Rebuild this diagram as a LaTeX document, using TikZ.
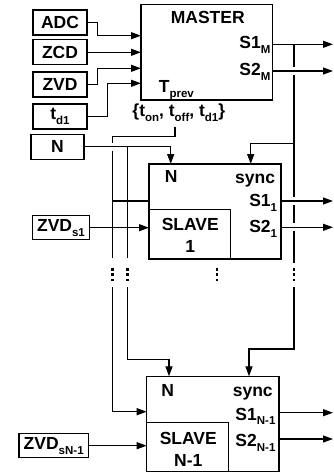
\documentclass[tikz,border=0pt]{standalone}
\usepackage{fontspec}
\setmainfont{Liberation Sans}
\usetikzlibrary{arrows.meta}
\newcommand\sbs[1]{\raisebox{-0.28em}{\fontsize{11.5}{12}\selectfont #1}}
\begin{document}
\begin{tikzpicture}[x=1pt,y=-1pt,line width=1.2pt,
  font=\fontsize{17.5}{20}\selectfont\bfseries,
  box/.style 2 args={draw,inner sep=0pt,minimum width=#1,minimum height=#2},
  txt/.style={inner sep=0pt},
  arr/.style={-{Triangle[length=10pt,width=7pt]}}]
\useasboundingbox (0,0) rectangle (333,476);

% input boxes
\node[box={54pt}{25pt}] (adc) at (60,22.5) {ADC};
\node[box={54pt}{25pt}] (zcd) at (60,52.3) {ZCD};
\node[box={54pt}{25pt}] (zvd) at (60,84.5) {ZVD};
\node[box={54pt}{25pt}] (td1) at (60,116.5) {t\sbs{d1}};
\node[box={53pt}{25pt}] (n) at (57.5,146.7) {N};
\node[box={56.6pt}{24.3pt}] (zvds1) at (61,227.7) {ZVD\sbs{s1}};
\node[box={69.3pt}{24pt}] (zvdsn) at (53.7,445.7) {ZVD\sbs{sN-1}};

% master
\node[box={131.7pt}{95.3pt}] (master) at (206.85,52.35) {};
\node[txt,anchor=base] (mt) at (207.8,24) {MASTER};
\node[txt,anchor=base east] (s1m) at (271,48.5) {S1\sbs{M}};
\node[txt,anchor=base east] (s2m) at (271,76) {S2\sbs{M}};
\node[txt,anchor=base west] (tprev) at (158.3,93) {T\sbs{prev}};
\node[txt,anchor=base] (params) at (178.8,117) {\{t\sbs{on}, t\sbs{off}, t\sbs{d1}\}};

% slave 1
\node[box={132pt}{95pt}] (sl1) at (215,211.5) {};
\node[box={81.7pt}{49.7pt}] (sl1in) at (189.85,234.15) {};
\node[txt,anchor=base] (sl1n) at (171.2,182.7) {N};
\node[txt,anchor=base east] (sl1sync) at (275.7,183) {sync};
\node[txt,anchor=base east] (sl1s1) at (277.7,206.7) {S1\sbs{1}};
\node[txt,anchor=base east] (sl1s2) at (277.7,232.7) {S2\sbs{1}};
\node[txt,anchor=base] (sl1a) at (190.3,230.7) {SLAVE};
\node[txt,anchor=base] (sl1b) at (190.3,252.3) {1};

% slave N-1
\node[box={132.3pt}{95.4pt}] (sln) at (212.85,424) {};
\node[box={82pt}{49.4pt}] (slnin) at (187.7,447) {};
\node[txt,anchor=base] (slnn) at (167.8,396.7) {N};
\node[txt,anchor=base east] (slnsync) at (273.3,396.7) {sync};
\node[txt,anchor=base east] (slns1) at (276,420) {S1\sbs{N-1}};
\node[txt,anchor=base east] (slns2) at (276,446.7) {S2\sbs{N-1}};
\node[txt,anchor=base] (slna) at (188.3,444) {SLAVE};
\node[txt,anchor=base] (slnb) at (188.3,466.7) {N-1};

% ports
\coordinate (min1) at (141,35.7);
\coordinate (min2) at (141,52.3);
\coordinate (min3) at (141,68.3);
\coordinate (min4) at (141,83.3);
\coordinate (m1o) at (272.7,44.3);
\coordinate (m2o) at (272.7,71);
\coordinate (o1) at (333,44.3);
\coordinate (o2) at (333,71);
\coordinate (o3) at (333,201);
\coordinate (o4) at (333,227.3);
\coordinate (o5) at (333,412.7);
\coordinate (o6) at (333,439);
\coordinate (sync1) at (250.7,164);
\coordinate (syncn) at (249,376.3);
\coordinate (nin1) at (170.7,164);
\coordinate (ninn) at (169,376.3);
\coordinate (pin1) at (149,201);
\coordinate (pinn) at (146.7,411.7);
\coordinate (zin1) at (149,227.7);
\coordinate (zinn) at (146.7,445.7);
\coordinate (p0) at (175,126.7);

% master inputs
\draw[arr] (adc.east) -- ++(9.7,0) |- (min1);
\draw[arr] (zcd.east) -- (min2);
\draw[arr] (zvd.east) -- ++(9.7,0) |- (min3);
\draw[arr] (td1.east) -- ++(19.7,0) |- (min4);

% master outputs
\draw[arr] (m1o) -- (o1);
\draw[arr] (m2o) -- (o2);

% sync line
\draw (294,44.3) -- (294,67);
\draw (294,75) -- (294,197);
\draw (294,205) -- (294,223.3);
\draw (294,231.3) -- (294,263);
\draw[arr] (294,143.3) -| (sync1);
\draw[arr] (294,287.3) -- (294,349) -| (syncn);

% parameter line
\draw (p0) -- (175,136.7) -| (112.3,142.7);
\draw (112.3,150.7) -- (112.3,258.3);
\draw (112.3,201) -- (pin1);
\draw[arr] (112.3,287.3) |- (pinn);

% N line
\draw[arr] (n.east) -| (nin1);
\draw (127.3,146.7) -- (127.3,258.3);
\draw[arr] (127.3,287.3) -- (127.3,359.3) -| (ninn);

% ZVD slave inputs
\draw[arr] (zvds1.east) -- (zin1);
\draw[arr] (zvdsn.east) -- (zinn);

% slave outputs
\draw[arr] (281,201) -- (o3);
\draw[arr] (281,227.3) -- (o4);
\draw[arr] (279,412.7) -- (o5);
\draw[arr] (279,439) -- (o6);

% dots
\foreach \x in {112.3,127.3,216.7,294}
  \foreach \y in {269.3,274.5,279.7}
    \fill (\x-1.2,\y-1.2) rectangle (\x+1.2,\y+1.2);
\end{tikzpicture}
\end{document}
